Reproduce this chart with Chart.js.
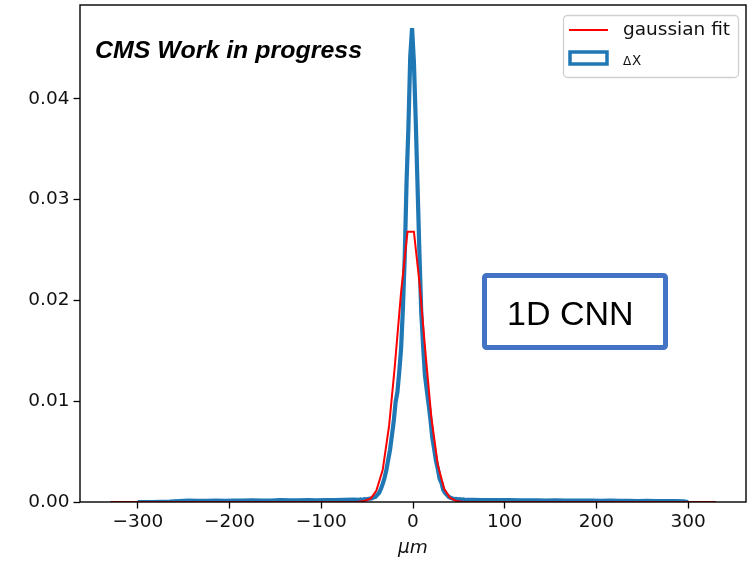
<!DOCTYPE html>
<html>
<head>
<meta charset="utf-8">
<script src="https://cdn.jsdelivr.net/npm/chart.js@4.4.1/dist/chart.umd.min.js"></script>
<style>
  html, body { margin: 0; padding: 0; background: #fff; }
  #wrap { width: 753px; height: 561px; }
</style>
</head>
<body>
<div id="wrap"><canvas id="resChart" width="753" height="561"></canvas></div>
<script>
// ΔX residuals: bin centres (µm) and normalised density per bin
const dxCentres = [
  -300, -295, -285, -275, -265, -255, -245, -235, -225, -215, -205, -195, -185,
  -175, -165, -155, -145, -135, -125, -115, -105, -95, -85, -75, -65,
  -59, -57, -55, -53, -51, -49, -47, -45, -43, -41, -39, -37, -35, -33, -31,
  -29, -27, -25, -23, -21, -19, -17, -15, -13, -11, -9, -7, -5, -3,
  -1, 1, 3, 5, 7, 9, 11, 13, 15, 17, 19, 21, 23, 25, 27, 29, 31, 33, 35, 37,
  39, 41, 43, 45, 47, 49, 51, 53, 55, 57, 59,
  65, 75, 85, 95, 105, 115, 125, 135, 145, 155, 165, 175, 185, 195,
  205, 215, 225, 235, 245, 255, 265, 275, 285, 295, 300
];
const dxDensity = [
  0, 0.00000, 0.00000, 0.00002, 0.00004, 0.00010, 0.00014, 0.00012, 0.00011, 0.00013, 0.00012, 0.00015, 0.00013,
  0.00016, 0.00014, 0.00015, 0.00018, 0.00016, 0.00017, 0.00018, 0.00017, 0.00019, 0.00020, 0.00021, 0.00023,
  0.00022, 0.00025, 0.00020, 0.00028, 0.00026, 0.00030, 0.00034, 0.00036, 0.00045, 0.00050, 0.00070, 0.00090, 0.00130, 0.00180, 0.00240,
  0.00320, 0.00420, 0.00520, 0.00660, 0.00800, 0.00990, 0.01090, 0.01290, 0.01520, 0.01920, 0.02430, 0.03180, 0.03720, 0.04420,
  0.04700, 0.04360, 0.03780, 0.03120, 0.02470, 0.01880, 0.01550, 0.01260, 0.01110, 0.00970, 0.00820, 0.00640, 0.00530, 0.00410, 0.00330, 0.00230, 0.00190, 0.00120, 0.00090, 0.00070,
  0.00050, 0.00042, 0.00035, 0.00030, 0.00032, 0.00026, 0.00028, 0.00022, 0.00025, 0.00020, 0.00022,
  0.00021, 0.00020, 0.00019, 0.00018, 0.00019, 0.00017, 0.00016, 0.00017, 0.00015, 0.00016, 0.00014, 0.00015, 0.00013, 0.00014,
  0.00012, 0.00013, 0.00011, 0.00012, 0.00010, 0.00011, 0.00009, 0.00010, 0.00008, 0.00007, 0
];

// gaussian fit, sampled at the bin centres
const fitX = [-330, -80, -73, -66, -60, -53, -46, -40, -33, -26, -20, -13, -6, 1,
  7, 14, 20, 27, 34, 40, 47, 54, 60, 67, 74, 80, 330];
const fitY = [0, 0, 0, 0.00001, 0.00003, 0.0001, 0.00036, 0.0011, 0.0032, 0.0076, 0.0133, 0.0208, 0.0268, 0.0268,
  0.0218, 0.0144, 0.0084, 0.0037, 0.0013, 0.00044, 0.0001, 0.00002, 0, 0, 0, 0, 0];

const xTicks = [-300, -200, -100, 0, 100, 200, 300];
const yTicks = [0, 0.01, 0.02, 0.03, 0.04];

const FONT = "'DejaVu Sans', sans-serif";

const framePlugin = {
  id: 'frame',
  afterDatasetsDraw(chart) {
    const { ctx, chartArea: a } = chart;
    ctx.save();
    ctx.strokeStyle = '#000';
    ctx.lineWidth = 1.4;
    ctx.strokeRect(a.left, a.top, a.right - a.left, a.bottom - a.top);
    ctx.restore();
  },
  afterDraw(chart) {
    const ctx = chart.ctx;
    ctx.save();

    // legend box
    ctx.beginPath();
    ctx.roundRect(563.5, 15.5, 175, 62, 4);
    ctx.fillStyle = 'rgba(255,255,255,0.8)';
    ctx.fill();
    ctx.strokeStyle = '#d0d0d0';
    ctx.lineWidth = 1.3;
    ctx.stroke();

    ctx.beginPath();
    ctx.moveTo(569, 30);
    ctx.lineTo(608, 30);
    ctx.strokeStyle = '#ff0000';
    ctx.lineWidth = 2.2;
    ctx.stroke();

    ctx.fillStyle = '#fff';
    ctx.fillRect(570, 52, 37, 12);
    ctx.strokeStyle = '#1f77b4';
    ctx.lineWidth = 3.5;
    ctx.strokeRect(570, 52, 37, 12);

    ctx.fillStyle = '#111';
    ctx.textBaseline = 'middle';
    ctx.textAlign = 'left';
    ctx.font = `18.5px ${FONT}`;
    ctx.fillText('gaussian fit', 623, 30);
    ctx.textBaseline = 'alphabetic';
    ctx.font = `12px ${FONT}`;
    ctx.fillText('Δ', 623, 65);
    ctx.font = `13.5px ${FONT}`;
    ctx.fillText('X', 632, 65);

    // "CMS Work in progress" label
    ctx.font = "italic bold 23px 'Liberation Sans', sans-serif";
    ctx.fillStyle = '#000';
    const w = ctx.measureText('CMS Work in progress').width;
    ctx.save();
    ctx.translate(95, 58);
    ctx.scale(267 / w, 1);
    ctx.fillText('CMS Work in progress', 0, 0);
    ctx.restore();

    // model tag
    ctx.beginPath();
    ctx.roundRect(484.5, 275.5, 181, 72, 2);
    ctx.fillStyle = '#fff';
    ctx.fill();
    ctx.strokeStyle = '#4472c4';
    ctx.lineWidth = 5;
    ctx.stroke();
    ctx.fillStyle = '#000';
    ctx.font = "34px 'Liberation Sans', sans-serif";
    ctx.fillText('1D CNN', 507, 325);

    ctx.restore();
  }
};

new Chart(document.getElementById('resChart'), {
  type: 'line',
  data: {
    datasets: [
      {
        label: 'gaussian fit',
        data: fitX.map((x, i) => ({ x, y: fitY[i] })),
        borderColor: '#ff0000',
        borderWidth: 2,
        pointRadius: 0,
        tension: 0,
        fill: false
      },
      {
        label: 'ΔX',
        data: dxCentres.map((x, i) => ({ x, y: dxDensity[i] })),
        borderColor: '#1f77b4',
        borderWidth: 4.2,
        pointRadius: 0,
        tension: 0,
        fill: false
      }
    ]
  },
  options: {
    responsive: false,
    animation: false,
    layout: { padding: { top: 5, right: 7, left: 0, bottom: 0 } },
    plugins: {
      legend: { display: false },
      tooltip: { enabled: false }
    },
    scales: {
      x: {
        type: 'linear',
        min: -363,
        max: 363,
        afterBuildTicks: s => { s.ticks = xTicks.map(v => ({ value: v })); },
        afterFit: s => { s.height = 59; s.paddingLeft = 0; s.paddingRight = 0; },
        border: { display: false },
        grid: { drawOnChartArea: false, drawTicks: true, tickLength: 6.5, tickColor: '#000', tickWidth: 1.3 },
        ticks: {
          color: '#111',
          padding: 3,
          maxRotation: 0,
          font: { family: FONT, size: 18.5 },
          callback: v => (v < 0 ? '\u2212' + Math.abs(v) : String(v))
        },
        title: {
          display: true,
          text: 'μm',
          color: '#111',
          padding: { top: 0, bottom: 2 },
          font: { family: FONT, size: 18.5, style: 'italic' }
        }
      },
      y: {
        type: 'linear',
        min: 0,
        max: 0.0493,
        afterBuildTicks: s => { s.ticks = yTicks.map(v => ({ value: v })); },
        afterFit: s => { s.width = 80; s.paddingTop = 0; s.paddingBottom = 0; },
        border: { display: false },
        grid: { drawOnChartArea: false, drawTicks: true, tickLength: 6.5, tickColor: '#000', tickWidth: 1.3 },
        ticks: {
          color: '#111',
          padding: 4,
          font: { family: FONT, size: 18.5 },
          callback: v => v.toFixed(2)
        }
      }
    }
  },
  plugins: [framePlugin]
});
</script>
</body>
</html>
